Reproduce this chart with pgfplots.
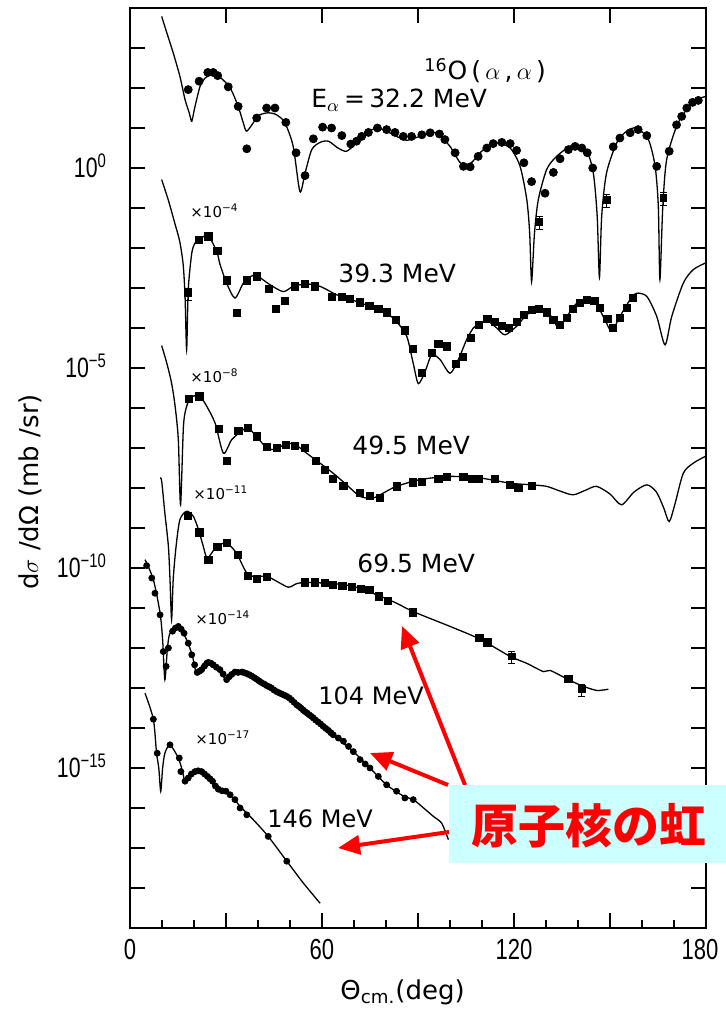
\documentclass[border=0pt]{standalone}
\usepackage{pgfplots}
\pgfplotsset{compat=1.18}
\usepackage{fontspec}
\setmainfont{DejaVu Sans}
\newfontfamily\tickfont[FakeStretch=0.76]{Liberation Sans}
\newfontfamily\cjk{Noto Sans CJK JP}
\usetikzlibrary{arrows.meta}
\definecolor{boxcyan}{RGB}{204,255,255}
\definecolor{rbred}{RGB}{255,0,0}
\newcommand\lbl{\fontsize{12.5}{13}\selectfont}
\newcommand\lbs{\fontsize{12}{13}\selectfont}
\newcommand\scl{\fontsize{7.5}{8}\selectfont}

\pgfplotsset{
  theory/.style={black, line width=0.65pt, smooth, tension=0.45, no markers},
  dotdata/.style={only marks, mark=*, mark size=2pt, black},
  sqdata/.style={only marks, mark=square*, mark size=1.8pt, black},
  smalldot/.style={only marks, mark=*, mark size=1.5pt, black},
  errdata/.style={only marks, mark=square*, mark size=1.7pt, black,
    error bars/.cd, y dir=both, y fixed relative=0.35},
}

\begin{document}
\begin{tikzpicture}
\begin{axis}[
  at={(65pt,43pt)}, anchor=south west,
  scale only axis, width=288pt, height=460pt,
  xmin=0, xmax=180,
  ymode=log, ymin=1e-19, ymax=1e4,
  axis line style={line width=1.3pt},
  tick align=inside,
  xtick={0,30,...,180},
  xticklabels={0,,60,,120,,\makebox[0pt]{\hspace*{-6pt}180}},
  xtick pos=both,
  extra x ticks={10,20,40,50,70,80,100,110,130,140,160,170},
  extra x tick labels={},
  extra x tick style={xtick pos=left, major tick length=4pt},
  ytick={1e-15,1e-10,1e-5,1},
  yticklabels={10\textsuperscript{−15},10\textsuperscript{−10},10\textsuperscript{−5},10\textsuperscript{0}},
  minor ytick={1e-19,1e-18,1e-17,1e-16,1e-14,1e-13,1e-12,1e-11,1e-9,1e-8,1e-7,1e-6,1e-4,1e-3,1e-2,1e-1,1e1,1e2,1e3,1e4},
  ytick pos=both,
  major tick length=7.5pt, minor tick length=7.5pt,
  every tick/.style={black, line width=0.9pt},
  xticklabel style={font=\tickfont\fontsize{14.5}{14.5}\selectfont, yshift=-2pt},
  yticklabel style={font=\tickfont\fontsize{14}{14}\selectfont, anchor=base east, yshift=-4.8pt, xshift=-8pt},
]
% ---- 32.2 MeV ----
\addplot[theory] table {
9.9 6.17e3
11.5 2.40e3
13.5 7.59e2
15.6 1.95e2
17.2 5.13e1
18.5 2.40e1
19.3 1.48e1
20.2 3.16e1
21.9 1.10e2
23.5 1.78e2
25.5 2.14e2
28.1 1.86e2
31.3 1.0e2
33.8 3.47e1
35.4 1.35e1
36.5 8.32
39.2 1.62e1
40.6 2.14e1
43.2 2.40e1
45.8 2.14e1
48.4 1.35e1
51.0 3.47
53.1 2.57e-1
54.7 7.41e-1
56.8 2.88
59.4 4.37
62.0 4.68
65.0 3.16
67.7 2.63
70.8 4.27
74.0 7.59
77.1 1.0e1
80.2 8.32
83.3 6.17
86.5 4.9
89.0 5.62
92.5 6.92
95.8 7.59
100.0 3.47
103.0 1.41
105.2 1.10
107.5 1.58
109.4 2.40
112.0 3.63
114.6 4.27
118.8 3.16
121.9 1.10
124.0 1.62e-1
124.9 2.34e-2
125.5 1.45e-3
126.4 2.34e-2
127.6 1.62e-1
130.2 9.12e-1
133.3 1.95
138.5 3.80
142.7 2.63
144.8 7.41e-1
146.0 6.17e-2
146.7 1.82e-3
147.4 6.17e-2
148.9 7.41e-1
152.1 4.27
155.2 8.32
158.3 1.0e1
162.0 5.13
164.1 1.10
165.1 1.10e-1
165.6 1.62e-3
166.5 1.10e-1
167.7 1.62
170.8 1.10e1
173.9 2.88e1
177.1 5.13e1
180.0 6.17e1
};
\addplot[dotdata] table {
18.2 9.12e1
21.6 1.48e2
24.3 2.45e2
26.0 2.45e2
27.4 2.04e2
30.7 1.07e2
33.8 3.47e1
36.5 3.02
39.6 1.78e1
42.7 3.16e1
45.3 3.16e1
48.7 1.38e1
51.9 2.40
54.7 6.46e-1
57.3 5.37
60.2 1.05e1
63.0 1.0e1
66.2 6.46
69.0 3.98
70.8 4.68
72.4 6.17
74.5 7.76
77.3 1.0e1
80.2 9.12
82.8 7.76
85.4 6.17
88.0 6.17
91.2 6.76
93.8 7.59
96.7 7.08
98.4 5.13
101.6 2.40
104.2 1.10
106.3 1.07
108.8 1.95
111.5 3.16
113.5 4.07
116.2 4.37
118.8 4.07
120.8 2.75
123.1 1.35
125.5 4.57e-1
129.7 2.34e-1
132.3 7.76e-1
134.4 1.70
137.0 2.88
139.1 3.47
141.2 3.16
142.9 2.40
144.6 1.0
151.0 3.39
153.1 5.62
156.3 7.59
158.8 9.12
161.5 6.46
164.6 1.10
168.5 2.63
170.8 1.20e1
172.4 1.95e1
174.0 3.16e1
175.8 4.37e1
177.6 4.90e1
};
\addplot[errdata] table {
127.9 4.57e-2
149.0 1.62e-1
166.7 1.78e-1
};
% ---- 39.3 MeV (x 1e-4) ----
\addplot[theory] table {
9.9 5.13e-1
12.0 1.55e-1
14.0 4.17e-2
15.5 1.51e-2
16.6 3.98e-3
17.2 6.31e-4
17.7 2.88e-5
18.2 9.12e-4
19.3 7.41e-3
20.3 1.32e-2
21.9 1.78e-2
24.5 1.95e-2
27.1 8.32e-3
28.1 3.98e-3
30.2 1.32e-3
32.8 5.62e-4
35.4 1.32e-3
37.5 1.91e-3
39.6 2.04e-3
43.8 1.20e-3
47.9 8.13e-4
51.0 1.10e-3
55.2 1.26e-3
59.4 1.10e-3
64.6 6.76e-4
69.8 4.90e-4
75.0 3.47e-4
80.2 2.34e-4
83.3 1.45e-4
86.5 6.17e-5
88.5 1.32e-5
90.1 4.07e-6
92.2 8.13e-6
94.3 2.14e-5
96.9 1.62e-5
100.0 7.41e-6
102.6 1.62e-5
105.2 5.13e-5
107.3 1.0e-4
109.4 1.32e-4
112.0 1.45e-4
114.6 1.0e-4
117.2 6.76e-5
120.8 1.10e-4
124.0 2.14e-4
128.1 3.16e-4
131.3 2.14e-4
133.8 1.05e-4
136.5 1.95e-4
139.6 4.17e-4
142.7 5.13e-4
145.8 3.80e-4
148.4 1.62e-4
150.5 8.32e-5
153.1 1.95e-4
156.3 5.13e-4
158.3 7.41e-4
161.5 6.17e-4
164.6 1.95e-4
167.2 3.80e-5
169.3 1.95e-4
172.9 1.32e-3
176.0 2.88e-3
180.0 4.27e-3
};
\addplot[sqdata] table {
21.6 1.62e-2
24.5 1.95e-2
27.3 8.32e-3
30.2 1.55e-3
33.5 2.34e-4
36.5 1.55e-3
39.6 1.95e-3
43.3 9.33e-4
45.6 2.95e-4
48.4 4.68e-4
51.6 1.10e-3
54.7 1.26e-3
57.8 1.10e-3
63.0 5.89e-4
66.2 5.89e-4
68.8 5.25e-4
71.9 4.37e-4
74.8 3.63e-4
77.6 2.95e-4
80.2 2.45e-4
83.1 1.62e-4
85.9 8.71e-5
88.5 2.95e-5
91.1 7.41e-6
94.3 2.34e-5
96.4 4.07e-5
99.0 3.47e-5
101.9 1.29e-5
104.0 1.91e-5
106.6 5.62e-5
109.1 1.20e-4
111.7 1.66e-4
114.1 1.45e-4
116.2 1.15e-4
118.5 1.0e-4
120.8 1.45e-4
123.2 2.14e-4
125.5 2.88e-4
127.9 2.95e-4
130.2 2.45e-4
132.3 1.62e-4
134.4 1.20e-4
136.5 1.78e-4
138.5 2.95e-4
140.6 4.17e-4
142.9 5.13e-4
145.1 4.68e-4
146.9 3.16e-4
149.2 1.66e-4
151.0 1.0e-4
153.1 1.78e-4
155.2 3.16e-4
157.1 5.62e-4
};
\addplot[errdata] table {
18.2 7.41e-4
};
% ---- 49.5 MeV (x 1e-8) ----
\addplot[theory] table {
9.9 3.63e-5
11.5 1.32e-5
13.0 4.17e-6
14.1 1.10e-6
15.1 1.62e-7
15.8 3.80e-9
16.7 3.47e-7
17.7 1.10e-6
19.0 1.82e-6
20.6 2.04e-6
22.2 1.82e-6
24.0 1.10e-6
26.6 4.17e-7
29.2 7.41e-8
31.8 1.62e-7
35.4 2.88e-7
36.9 3.16e-7
39.6 1.95e-7
42.7 1.0e-7
45.8 9.33e-8
48.9 1.32e-7
52.1 1.15e-7
55.2 7.41e-8
59.4 4.17e-8
63.5 2.34e-8
67.7 1.20e-8
71.9 6.17e-9
76.0 5.62e-9
80.2 8.32e-9
83.3 1.10e-8
90.6 1.62e-8
100.0 1.95e-8
109.4 1.78e-8
118.8 1.32e-8
125.5 1.20e-8
130.2 1.10e-8
134.5 8.32e-9
138.5 6.76e-9
142.5 8.91e-9
145.8 1.10e-8
150.0 7.08e-9
153.6 3.80e-9
157.5 7.94e-9
161.5 1.20e-8
164.5 7.94e-9
166.8 3.16e-9
168.5 1.45e-9
170.3 3.98e-9
172.9 2.34e-8
176.0 4.17e-8
180.0 6.31e-8
};
\addplot[sqdata] table {
18.5 1.66e-6
21.7 1.95e-6
27.9 3.02e-7
30.4 4.68e-8
33.9 2.63e-7
36.8 3.16e-7
39.6 1.95e-7
42.7 1.07e-7
45.8 1.0e-7
48.8 1.20e-7
51.6 1.15e-7
54.7 1.0e-7
58.1 4.68e-8
60.9 2.88e-8
63.5 1.66e-8
66.7 1.15e-8
71.9 7.41e-9
75.0 6.46e-9
78.1 5.62e-9
83.3 1.10e-8
88.5 1.38e-8
91.1 1.45e-8
96.4 1.66e-8
99.0 1.86e-8
104.2 1.86e-8
106.8 1.66e-8
109.1 1.66e-8
114.1 1.66e-8
118.8 1.20e-8
121.4 1.0e-8
125.5 1.15e-8
};
% ---- 69.5 MeV (x 1e-11) ----
\addplot[theory] table {
9.4 1.78e-8
9.9 1.48e-8
10.9 2.34e-9
12.0 3.47e-10
12.5 5.13e-11
13.0 5.13e-12
13.5 5.13e-11
14.4 3.47e-10
15.6 1.62e-9
17.7 2.63e-9
19.8 1.95e-9
21.4 9.12e-10
22.9 3.47e-10
24.2 1.78e-10
27.1 3.47e-10
30.2 4.17e-10
33.3 2.34e-10
37.0 6.76e-11
42.7 6.17e-11
45.8 4.68e-11
49.5 3.31e-11
52.1 4.07e-11
55.2 4.37e-11
63.5 4.07e-11
69.8 3.47e-11
77.1 2.14e-11
83.3 1.32e-11
88.5 8.13e-12
100.0 3.47e-12
109.4 1.66e-12
118.8 6.17e-13
123.9 4.17e-13
129.2 2.57e-13
131.3 2.75e-13
137.0 1.62e-13
141.1 1.15e-13
145.8 8.71e-14
149.5 9.33e-14
};
\addplot[sqdata] table {
18.2 2.04e-9
21.7 7.76e-10
24.5 1.62e-10
27.3 3.31e-10
30.4 4.17e-10
33.8 2.14e-10
36.8 6.46e-11
39.6 5.25e-11
42.7 5.89e-11
54.7 4.37e-11
57.8 4.37e-11
60.9 4.17e-11
63.5 3.80e-11
66.4 3.63e-11
69.3 3.31e-11
72.1 2.95e-11
74.8 2.88e-11
77.9 1.95e-11
80.7 1.48e-11
88.5 7.76e-12
109.2 1.78e-12
111.7 1.38e-12
137.0 1.66e-13
};
\addplot[errdata] table {
119.3 6.17e-13
141.1 9.33e-14
};
% ---- 104 MeV (x 1e-14) ----
\addplot[theory] table {
4.7 1.62e-10
7.3 5.13e-11
9.4 7.41e-12
10.2 1.58e-12
10.9 1.62e-13
11.7 1.0e-12
12.5 2.34e-12
15.1 3.47e-12
17.7 1.62e-12
19.5 6.31e-13
20.8 2.34e-13
22.5 3.55e-13
24.5 4.68e-13
27.0 3.16e-13
30.2 1.62e-13
32.8 2.34e-13
36.0 2.40e-13
40.6 1.32e-13
45.0 8.91e-14
49.0 6.17e-14
53.0 3.55e-14
57.3 1.95e-14
60.4 1.10e-14
64.6 5.62e-15
69.8 2.57e-15
75.0 1.0e-15
80.2 3.80e-16
85.4 2.00e-16
88.5 1.62e-16
90.6 1.20e-16
94.8 6.17e-17
97.4 4.17e-17
99.5 1.62e-17
};
\addplot[smalldot] table {
5.2 1.15e-10
6.8 5.62e-11
7.8 2.34e-11
9.4 6.76e-12
10.4 8.13e-13
11.3 3.47e-13
12.0 1.0e-12
13.3 2.63e-12
14.2 3.16e-12
15.1 3.47e-12
16.0 2.95e-12
16.9 2.34e-12
18.2 1.32e-12
19.3 6.76e-13
20.2 3.80e-13
21.0 2.45e-13
21.7 2.63e-13
22.4 2.88e-13
23.3 3.55e-13
24.0 4.17e-13
24.5 4.37e-13
25.3 4.17e-13
26.0 3.80e-13
27.0 3.31e-13
28.1 2.88e-13
29.1 2.24e-13
30.2 1.62e-13
31.0 1.91e-13
31.8 2.19e-13
32.8 2.51e-13
33.8 2.45e-13
35.0 2.51e-13
35.8 2.40e-13
36.5 2.29e-13
37.3 2.14e-13
38.0 2.0e-13
38.8 1.82e-13
39.6 1.66e-13
40.3 1.51e-13
41.0 1.38e-13
41.9 1.26e-13
42.7 1.15e-13
43.5 1.07e-13
44.2 1.0e-13
45.0 8.91e-14
45.8 8.13e-14
46.6 7.59e-14
47.4 7.08e-14
48.2 6.61e-14
49.0 6.17e-14
49.8 5.62e-14
50.5 5.01e-14
51.3 4.37e-14
52.1 3.80e-14
52.8 3.47e-14
53.4 3.16e-14
54.1 2.82e-14
54.7 2.57e-14
55.4 2.34e-14
56.0 2.14e-14
56.7 1.95e-14
57.3 1.78e-14
58.0 1.58e-14
58.8 1.41e-14
59.6 1.26e-14
60.4 1.10e-14
61.2 9.77e-15
62.0 8.71e-15
62.8 7.59e-15
63.5 6.76e-15
65.1 5.62e-15
66.7 4.68e-15
68.3 3.47e-15
69.8 2.57e-15
71.9 1.62e-15
73.5 1.26e-15
75.0 1.0e-15
77.6 6.17e-16
80.2 3.80e-16
83.3 2.63e-16
85.9 1.78e-16
88.5 1.62e-16
};
% ---- 146 MeV (x 1e-17) ----
\addplot[theory] table {
4.7 7.41e-14
7.3 1.66e-14
8.3 2.34e-15
9.0 1.0e-15
9.6 2.63e-16
10.2 1.0e-15
10.9 2.34e-15
12.5 3.80e-15
15.1 1.78e-15
16.3 8.91e-16
17.2 4.68e-16
18.5 6.31e-16
21.4 9.12e-16
24.0 6.31e-16
27.1 3.16e-16
31.3 2.14e-16
34.4 1.10e-16
38.5 5.13e-17
43.2 1.95e-17
49.0 4.68e-18
54.2 1.32e-18
59.4 4.17e-19
};
\addplot[smalldot] table {
7.3 1.66e-14
8.5 2.34e-15
12.5 3.80e-15
15.4 1.78e-15
15.9 8.13e-16
17.2 4.68e-16
18.2 5.62e-16
19.2 7.08e-16
20.3 8.13e-16
21.3 8.51e-16
22.4 8.13e-16
23.3 7.08e-16
24.2 6.17e-16
25.0 5.37e-16
25.8 4.68e-16
26.7 3.55e-16
27.6 2.95e-16
28.8 2.69e-16
30.0 2.63e-16
31.3 2.14e-16
32.8 1.62e-16
34.4 1.0e-16
36.5 6.76e-17
43.2 1.95e-17
49.0 4.68e-18
};
\end{axis}

% annotations, positioned on a 0.5pt grid measured from the top-left corner
\begin{scope}[x=0.5pt,y=-0.5pt,shift={(0pt,507pt)}]
  \node[anchor=base west,font=\lbl,inner sep=0pt] at (424,80) {\textsuperscript{16}O\,(\,$\alpha$\,,\,$\alpha$\,)};
  \node[anchor=base west,font=\lbl,inner sep=0pt] at (311,108) {E$_{\alpha}$\,=\,32.2 MeV};
  \node[anchor=base west,font=\lbl,inner sep=0pt] at (338,283) {39.3 MeV};
  \node[anchor=base west,font=\lbl,inner sep=0pt] at (352,455) {49.5 MeV};
  \node[anchor=base west,font=\lbl,inner sep=0pt] at (357,573) {69.5 MeV};
  \node[anchor=base west,font=\lbs,inner sep=0pt] at (318,705) {104 MeV};
  \node[anchor=base west,font=\lbs,inner sep=0pt] at (267,828) {146 MeV};
  \node[anchor=base west,font=\scl,inner sep=0pt] at (190,218) {×10\textsuperscript{−4}};
  \node[anchor=base west,font=\scl,inner sep=0pt] at (190,383) {×10\textsuperscript{−8}};
  \node[anchor=base west,font=\scl,inner sep=0pt] at (193,500) {×10\textsuperscript{−11}};
  \node[anchor=base west,font=\scl,inner sep=0pt] at (195,625) {×10\textsuperscript{−14}};
  \node[anchor=base west,font=\scl,inner sep=0pt] at (195,745) {×10\textsuperscript{−17}};
  \node[rotate=90,font=\fontsize{13}{13}\selectfont] at (30,492) {d$\sigma$ /dΩ (mb /sr)};
  \node[anchor=base west,font=\fontsize{13}{13}\selectfont,inner sep=0pt] at (340,1000) {Θ\textsubscript{cm.}(deg)};
  \draw[rbred, line width=2pt, -{Triangle[length=11pt,width=9.5pt]}] (465,785) -- (402,626);
  \draw[rbred, line width=2pt, -{Triangle[length=11pt,width=9.5pt]}] (448,785) -- (370,753);
  \draw[rbred, line width=2pt, -{Triangle[length=11pt,width=9.5pt]}] (449,832) -- (338,848);
  \fill[boxcyan] (449,785) rectangle (726,863);
  \node[text=rbred, font=\cjk\bfseries\fontsize{23.5}{24}\selectfont] at (589,826) {原子核の虹};
\end{scope}
\pgfresetboundingbox
\path[use as bounding box] (0,0) rectangle (363pt,507pt);
\end{tikzpicture}
\end{document}
